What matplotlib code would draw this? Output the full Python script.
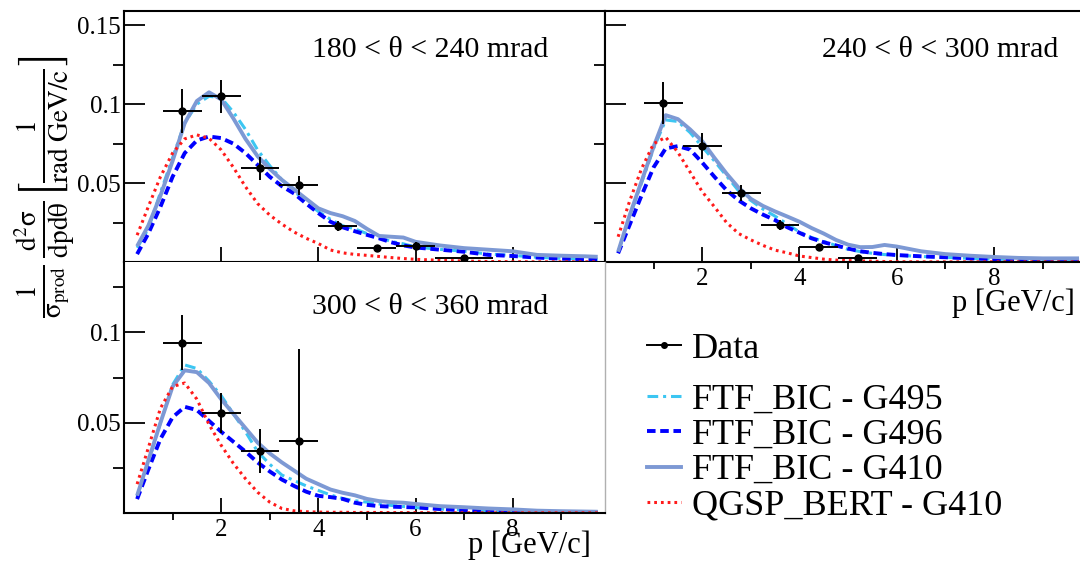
import matplotlib
matplotlib.use("Agg")
import matplotlib.pyplot as plt
from matplotlib.lines import Line2D
from matplotlib.ticker import FixedLocator, FuncFormatter

plt.rcParams['font.family'] = ['Liberation Serif', 'DejaVu Serif']
plt.rcParams['mathtext.fontset'] = 'stix'

# ---- values --------------------------------------------------------------
p_grid = [0.27, 0.5, 0.75, 1.0, 1.25, 1.5, 1.75, 2.0, 2.25, 2.5, 2.75, 3.0,
          3.25, 3.5, 3.75, 4.0, 4.25, 4.5, 4.75, 5.0, 5.25, 5.5, 5.75, 6.0,
          6.5, 7.0, 7.5, 8.0, 8.5, 9.0, 9.5, 9.75]

# 180 < theta < 240 mrad
tl_g410 = [0.010, 0.023, 0.042, 0.064, 0.088, 0.102, 0.1075, 0.103,
           0.091, 0.078, 0.067, 0.059, 0.052, 0.046, 0.040, 0.034,
           0.031, 0.029, 0.026, 0.021, 0.0165, 0.016, 0.0155, 0.0128,
           0.0105, 0.0088, 0.0078, 0.0068, 0.0045, 0.0040, 0.0036, 0.0033]
tl_g495 = [0.009, 0.021, 0.044, 0.066, 0.088, 0.100, 0.105, 0.104,
           0.095, 0.084, 0.071, 0.061, 0.052, 0.045, 0.038, 0.032,
           0.027, 0.023, 0.021, 0.018, 0.0155, 0.013, 0.0115, 0.0095,
           0.008, 0.0068, 0.005, 0.0042, 0.003, 0.0023, 0.0019, 0.0017]
tl_g496 = [0.005, 0.018, 0.035, 0.054, 0.069, 0.077, 0.0795, 0.0785,
           0.075, 0.069, 0.0615, 0.054, 0.048, 0.0434, 0.037, 0.031,
           0.0255, 0.022, 0.0195, 0.0172, 0.015, 0.0125, 0.0105, 0.0092,
           0.0078, 0.0065, 0.0045, 0.0038, 0.0028, 0.0021, 0.0018, 0.0016]
tl_qgsp = [0.017, 0.035, 0.054, 0.069, 0.078, 0.0805, 0.0784, 0.071,
           0.060, 0.0477, 0.037, 0.0297, 0.024, 0.019, 0.015, 0.0117,
           0.0076, 0.0058, 0.0048, 0.0042, 0.0035, 0.0028, 0.0022, 0.0017,
           0.0011, 0.0006, 0.0003, 0.0002, 0.0001, 0.0001, 0.0001, 0.0001]
tl_p = [1.2, 2.0, 2.8, 3.6, 4.4, 5.2, 6.0, 7.0]
tl_pw = [0.4, 0.4, 0.4, 0.4, 0.4, 0.4, 0.4, 0.6]
tl_val = [0.0956, 0.1049, 0.0593, 0.0487, 0.0228, 0.0087, 0.0101, 0.0023]
tl_err = [0.014, 0.0105, 0.0074, 0.006, 0.003, 0.0015, 0.0025, 0.001]

# 240 < theta < 300 mrad
tr_g410 = [0.0065, 0.029, 0.051, 0.073, 0.093, 0.0905, 0.084, 0.0765,
           0.066, 0.056, 0.047, 0.040, 0.0355, 0.032, 0.0288, 0.0255,
           0.0215, 0.018, 0.014, 0.011, 0.0094, 0.0095, 0.0108, 0.0098,
           0.0068, 0.005, 0.004, 0.0032, 0.0026, 0.0023, 0.0023, 0.0023]
tr_g495 = [0.006, 0.028, 0.050, 0.072, 0.090, 0.089, 0.082, 0.073,
           0.064, 0.0545, 0.045, 0.039, 0.0335, 0.029, 0.024, 0.019,
           0.0155, 0.013, 0.0105, 0.008, 0.0066, 0.0055, 0.0047, 0.0043,
           0.0035, 0.003, 0.0023, 0.0018, 0.0015, 0.0013, 0.0012, 0.0012]
tr_g496 = [0.0055, 0.023, 0.042, 0.060, 0.072, 0.0734, 0.0712, 0.063,
           0.054, 0.0455, 0.039, 0.034, 0.030, 0.0265, 0.022, 0.0185,
           0.015, 0.0125, 0.0105, 0.0085, 0.0068, 0.0058, 0.005, 0.0044,
           0.0036, 0.003, 0.0023, 0.0018, 0.0015, 0.0013, 0.0012, 0.0012]
tr_qgsp = [0.016, 0.038, 0.059, 0.075, 0.079, 0.0695, 0.057, 0.0445,
           0.035, 0.025, 0.018, 0.014, 0.0105, 0.0075, 0.0058, 0.0038,
           0.0028, 0.0018, 0.0012, 0.0009, 0.0007, 0.0005, 0.0003, 0.0002,
           0.0001, 0.0001, 0.0001, 0.0001, 0.0001, 0.0001, 0.0001, 0.0001]
tr_p = [1.2, 2.0, 2.8, 3.6, 4.4, 5.2]
tr_pw = [0.4, 0.4, 0.4, 0.4, 0.4, 0.4]
tr_val = [0.1008, 0.0736, 0.0435, 0.0234, 0.0093, 0.0023]
tr_err = [0.0134, 0.0084, 0.005, 0.003, 0.002, 0.001]

# 300 < theta < 360 mrad
bl_g410 = [0.0096, 0.029, 0.050, 0.070, 0.079, 0.078, 0.072, 0.063,
           0.055, 0.047, 0.039, 0.033, 0.028, 0.0235, 0.019, 0.016,
           0.013, 0.0112, 0.0098, 0.0078, 0.0066, 0.006, 0.0057, 0.005,
           0.0038, 0.0032, 0.0025, 0.002, 0.0013, 0.001, 0.0008, 0.0007]
bl_g495 = [0.009, 0.028, 0.050, 0.071, 0.082, 0.080, 0.073, 0.065,
           0.055, 0.045, 0.034, 0.027, 0.021, 0.018, 0.015, 0.0125,
           0.010, 0.008, 0.0068, 0.006, 0.005, 0.0042, 0.0036, 0.003,
           0.0022, 0.0016, 0.0012, 0.0009, 0.0006, 0.0005, 0.0004, 0.0004]
bl_g496 = [0.0077, 0.024, 0.041, 0.053, 0.0588, 0.057, 0.051, 0.045,
           0.0395, 0.034, 0.028, 0.023, 0.0185, 0.015, 0.0118, 0.0095,
           0.0088, 0.0078, 0.0057, 0.0045, 0.0038, 0.0035, 0.0033, 0.0031,
           0.0022, 0.0014, 0.0009, 0.0006, 0.0004, 0.0004, 0.0004, 0.0004]
bl_qgsp = [0.016, 0.036, 0.058, 0.070, 0.072, 0.063, 0.049, 0.0375,
           0.0275, 0.019, 0.0115, 0.006, 0.0025, 0.0012, 0.0007, 0.0005,
           0.0004, 0.0004, 0.0003, 0.0003, 0.0003, 0.0002, 0.0002, 0.0002,
           0.0001, 0.0001, 0.0001, 0.0001, 0.0001, 0.0001, 0.0001, 0.0001]
bl_p = [1.2, 2.0, 2.8, 3.6]
bl_pw = [0.4, 0.4, 0.4, 0.4]
bl_val = [0.0944, 0.0555, 0.0343, 0.0397]
bl_err = [0.0153, 0.011, 0.0123, 0.051]

model_labels = ['FTF_BIC - G495', 'FTF_BIC - G496', 'FTF_BIC - G410', 'QGSP_BERT - G410']
panel_titles = [r'180 < θ < 240 mrad', r'240 < θ < 300 mrad', r'300 < θ < 360 mrad']

# line styles per model (same order as model_labels)
styles = [
    dict(color='#3cc6f2', lw=2.2, ls=(0, (3.5, 1.6, 1.0, 1.6))),
    dict(color='#0000ff', lw=2.8, ls=(0, (2.2, 1.2))),
    dict(color='#7d99d4', lw=2.8, ls='-'),
    dict(color='#ff1a1a', lw=2.2, ls=(0, (0.9, 1.3))),
]


def fmt(v, _):
    return '' if v == 0 else '%g' % v


def draw_panel(ax, curves, p, pw, val, err, ymax, xmax, title, title_xy):
    for y, st in zip(curves, styles):
        ax.plot(p_grid, y, color=st['color'], lw=st['lw'], linestyle=st['ls'],
                solid_capstyle='butt', dash_capstyle='butt', zorder=2)
    ax.errorbar(p, val, xerr=pw, yerr=err, fmt='o', color='black', ms=5,
                elinewidth=1.4, capsize=0, zorder=5)
    ax.set_xlim(0, xmax)
    ax.set_ylim(0, ymax)
    ax.xaxis.set_major_locator(FixedLocator([2, 4, 6, 8]))
    ax.xaxis.set_minor_locator(FixedLocator([1, 3, 5, 7, 9]))
    ax.yaxis.set_major_locator(FixedLocator([0.05, 0.1, 0.15]))
    ax.yaxis.set_minor_locator(FixedLocator([0.025, 0.075, 0.125]))
    ax.yaxis.set_major_formatter(FuncFormatter(fmt))
    ax.tick_params(direction='in', labelsize=18, width=1.3)
    ax.tick_params(axis='y', which='major', length=15, pad=2)
    ax.tick_params(axis='y', which='minor', length=8, width=1.3)
    ax.tick_params(axis='x', which='major', length=11, pad=4)
    ax.tick_params(axis='x', which='minor', length=5, width=1.3)
    for s in ax.spines.values():
        s.set_linewidth(1.5)
    ax.text(title_xy[0], title_xy[1], title, transform=ax.transAxes,
            ha='right', va='center', fontsize=21.5)


fig = plt.figure(figsize=(10.8, 5.62), dpi=100)
W, H = 1080.0, 562.0

ax_tl = fig.add_axes([124 / W, 1 - 262 / H, 481 / W, 251 / H])
ax_tr = fig.add_axes([605 / W, 1 - 262 / H, 475 / W, 251 / H])
ax_bl = fig.add_axes([124 / W, 1 - 513 / H, 481 / W, 251 / H])

draw_panel(ax_tl, [tl_g495, tl_g496, tl_g410, tl_qgsp], tl_p, tl_pw, tl_val, tl_err,
           0.159, 9.9, panel_titles[0], (0.882, 0.845))
draw_panel(ax_tr, [tr_g495, tr_g496, tr_g410, tr_qgsp], tr_p, tr_pw, tr_val, tr_err,
           0.159, 9.77, panel_titles[1], (0.955, 0.845))
draw_panel(ax_bl, [bl_g495, bl_g496, bl_g410, bl_qgsp], bl_p, bl_pw, bl_val, bl_err,
           0.139, 9.9, panel_titles[2], (0.882, 0.82))

ax_tl.tick_params(axis='x', labelbottom=False)
ax_tr.tick_params(axis='y', labelleft=False)
ax_tr.spines['right'].set_visible(False)
ax_bl.spines['top'].set_visible(False)
ax_bl.spines['right'].set_color('#b0b0b0')
ax_bl.spines['right'].set_linewidth(1.0)

ax_tr.text(0.99, -0.165, 'p [GeV/c]', transform=ax_tr.transAxes,
           ha='right', va='center', fontsize=22)
ax_bl.text(0.97, -0.13, 'p [GeV/c]', transform=ax_bl.transAxes,
           ha='right', va='center', fontsize=22)

fig.text(45 / W, 1 - 187 / H,
         r'$\frac{1}{\mathrm{\sigma}_{\mathrm{prod}}}\,\frac{\mathrm{d}^{2}\mathrm{\sigma}}{\mathrm{dpd\theta}}'
         r'\left[\frac{1}{\mathrm{rad\ GeV/c}}\right]$',
         rotation=90, ha='center', va='center', fontsize=28)

# legend, data entry sits a bit apart from the model entries
data_handle = Line2D([], [], color='black', marker='o', ms=4, lw=1.4)
fig.legend([data_handle], ['Data'], loc='center left',
           bbox_to_anchor=(647 / W, 1 - 349 / H), frameon=False, fontsize=26,
           handlelength=0.95, handletextpad=0.3, borderpad=0, borderaxespad=0)
model_handles = [Line2D([], [], color=st['color'], lw=st['lw'], linestyle=st['ls'])
                 for st in styles]
fig.legend(model_handles, model_labels, loc='upper left',
           bbox_to_anchor=(647 / W, 1 - 383 / H), frameon=False, fontsize=26,
           handlelength=0.95, handletextpad=0.3, labelspacing=0.06,
           borderpad=0, borderaxespad=0)

fig.savefig('out.png', dpi=100)
